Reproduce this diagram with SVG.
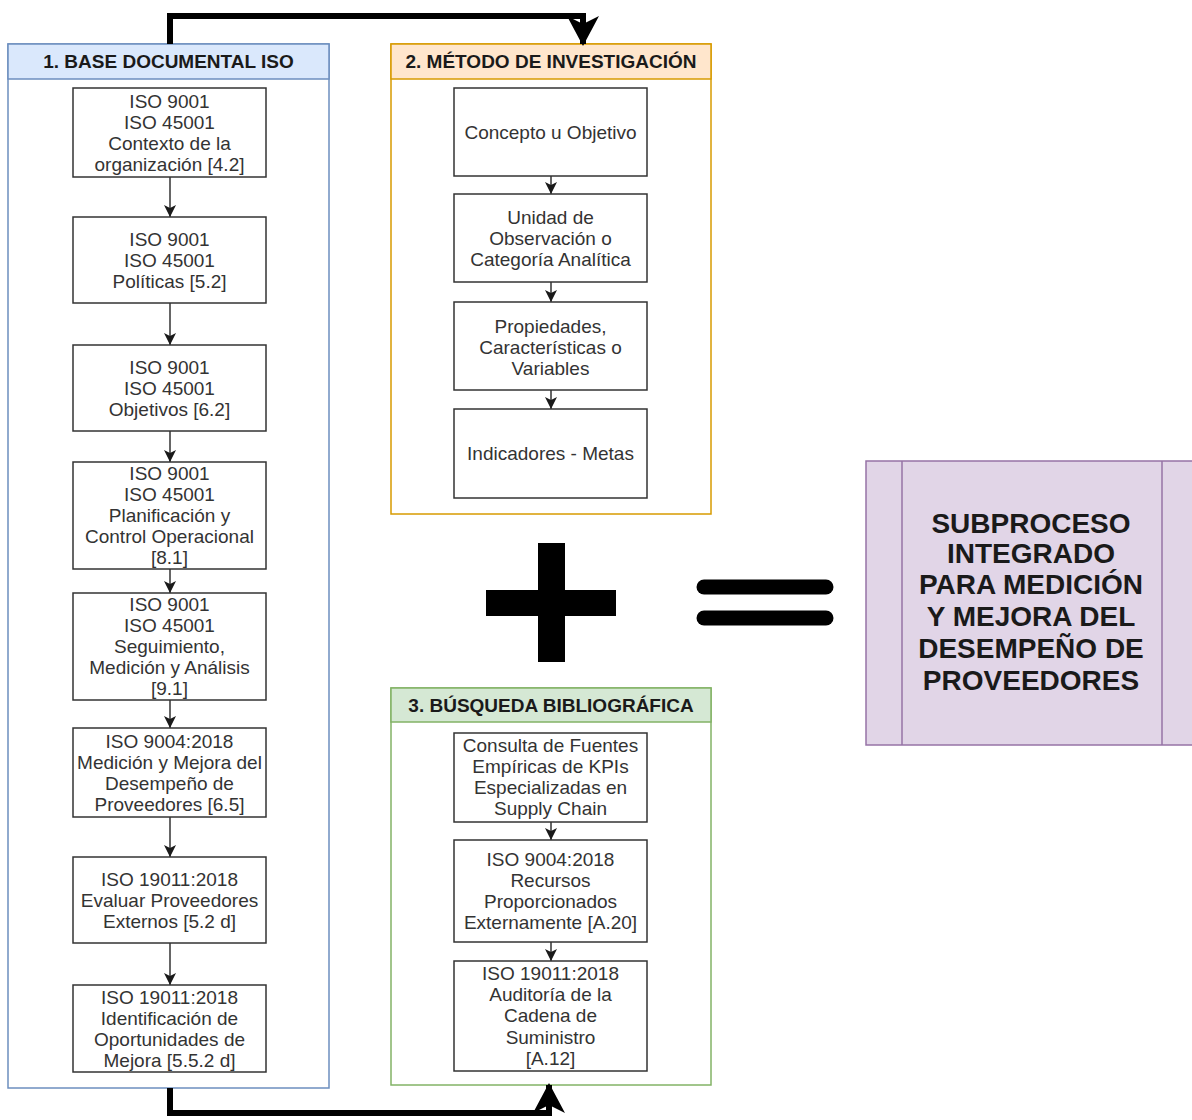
<svg xmlns="http://www.w3.org/2000/svg" width="1192" height="1120" viewBox="0 0 1192 1120">
<style>
.cont{fill:#ffffff;stroke-width:1.5}
.box{fill:#ffffff;stroke:#333333;stroke-width:1.5}
.t{font-family:"Liberation Sans",Arial,sans-serif;font-size:19px;fill:#333333;text-anchor:middle;dominant-baseline:central}
.h{font-family:"Liberation Sans",Arial,sans-serif;font-size:19px;font-weight:bold;fill:#1a1a1a;text-anchor:middle;dominant-baseline:central}
.big{font-family:"Liberation Sans",Arial,sans-serif;font-size:28px;font-weight:bold;fill:#1a1a1a;text-anchor:middle;dominant-baseline:central}
.thin{fill:none;stroke:#333333;stroke-width:1.5}
.thick{fill:none;stroke:#000000;stroke-width:6}
</style>
<defs>
<marker id="a" markerUnits="userSpaceOnUse" markerWidth="12" markerHeight="12" viewBox="0 0 12 12" refX="12" refY="6" orient="auto">
<path d="M0,0 L12,6 L0,12 L3,6 z" fill="#1a1a1a"/>
</marker>
<marker id="A" markerUnits="userSpaceOnUse" markerWidth="30" markerHeight="32" viewBox="0 0 30 32" refX="28" refY="16" orient="auto">
<path d="M0,0 L30,16 L0,32 L8,16 z" fill="#000000"/>
</marker>
</defs>
<rect width="1192" height="1120" fill="#ffffff"/>

<g id="container1">
<rect class="cont" x="8" y="44" width="321" height="1044" stroke="#6c8ebf"/>
<rect x="8" y="44" width="321" height="35" fill="#dae8fc" stroke="#6c8ebf" stroke-width="1.5"/>
<text class="h" x="168.5" y="61">1. BASE DOCUMENTAL ISO</text>
</g>
<g id="container2">
<rect class="cont" x="391" y="44" width="320" height="470" stroke="#d79b00"/>
<rect x="391" y="44" width="320" height="35" fill="#ffe6cc" stroke="#d79b00" stroke-width="1.5"/>
<text class="h" x="551" y="61">2. MÉTODO DE INVESTIGACIÓN</text>
</g>
<g id="container3">
<rect class="cont" x="391" y="688" width="320" height="397" stroke="#82b366"/>
<rect x="391" y="688" width="320" height="34" fill="#d5e8d4" stroke="#82b366" stroke-width="1.5"/>
<text class="h" x="551" y="705">3. BÚSQUEDA BIBLIOGRÁFICA</text>
</g>

<g id="connectors">
<path class="thick" d="M170,44 V16 H583 V44" marker-end="url(#A)"/>
<path class="thick" d="M170,1088 V1113 H549 V1085" marker-end="url(#A)"/>
<path class="thin" d="M170,177 V217" marker-end="url(#a)"/>
<path class="thin" d="M170,303 V345" marker-end="url(#a)"/>
<path class="thin" d="M170,431 V462" marker-end="url(#a)"/>
<path class="thin" d="M170,569 V593" marker-end="url(#a)"/>
<path class="thin" d="M170,700 V728" marker-end="url(#a)"/>
<path class="thin" d="M170,817 V857" marker-end="url(#a)"/>
<path class="thin" d="M170,943 V985" marker-end="url(#a)"/>
<path class="thin" d="M551,176 V194" marker-end="url(#a)"/>
<path class="thin" d="M551,282 V302" marker-end="url(#a)"/>
<path class="thin" d="M551,390 V409" marker-end="url(#a)"/>
<path class="thin" d="M551,822 V840" marker-end="url(#a)"/>
<path class="thin" d="M551,942 V961" marker-end="url(#a)"/>
</g>

<g id="n1"><rect class="box" x="73" y="88" width="193" height="89"/>
<text class="t" x="169.5" y="101">ISO 9001</text><text class="t" x="169.5" y="122">ISO 45001</text><text class="t" x="169.5" y="143">Contexto de la</text><text class="t" x="169.5" y="164">organización [4.2]</text></g>
<g id="n2"><rect class="box" x="73" y="217" width="193" height="86"/>
<text class="t" x="169.5" y="239">ISO 9001</text><text class="t" x="169.5" y="260">ISO 45001</text><text class="t" x="169.5" y="281">Políticas [5.2]</text></g>
<g id="n3"><rect class="box" x="73" y="345" width="193" height="86"/>
<text class="t" x="169.5" y="367">ISO 9001</text><text class="t" x="169.5" y="388">ISO 45001</text><text class="t" x="169.5" y="409">Objetivos [6.2]</text></g>
<g id="n4"><rect class="box" x="73" y="462" width="193" height="107"/>
<text class="t" x="169.5" y="473">ISO 9001</text><text class="t" x="169.5" y="494">ISO 45001</text><text class="t" x="169.5" y="515">Planificación y</text><text class="t" x="169.5" y="536">Control Operacional</text><text class="t" x="169.5" y="557">[8.1]</text></g>
<g id="n5"><rect class="box" x="73" y="593" width="193" height="107"/>
<text class="t" x="169.5" y="604">ISO 9001</text><text class="t" x="169.5" y="625">ISO 45001</text><text class="t" x="169.5" y="646">Seguimiento,</text><text class="t" x="169.5" y="667">Medición y Análisis</text><text class="t" x="169.5" y="688">[9.1]</text></g>
<g id="n6"><rect class="box" x="73" y="728" width="193" height="89"/>
<text class="t" x="169.5" y="741">ISO 9004:2018</text><text class="t" x="169.5" y="762">Medición y Mejora del</text><text class="t" x="169.5" y="783">Desempeño de</text><text class="t" x="169.5" y="804">Proveedores [6.5]</text></g>
<g id="n7"><rect class="box" x="73" y="857" width="193" height="86"/>
<text class="t" x="169.5" y="879">ISO 19011:2018</text><text class="t" x="169.5" y="900">Evaluar Proveedores</text><text class="t" x="169.5" y="921">Externos [5.2 d]</text></g>
<g id="n8"><rect class="box" x="73" y="985" width="193" height="87"/>
<text class="t" x="169.5" y="997">ISO 19011:2018</text><text class="t" x="169.5" y="1018">Identificación de</text><text class="t" x="169.5" y="1039">Oportunidades de</text><text class="t" x="169.5" y="1060">Mejora [5.5.2 d]</text></g>

<g id="m1"><rect class="box" x="454" y="88" width="193" height="88"/>
<text class="t" x="550.5" y="132">Concepto u Objetivo</text></g>
<g id="m2"><rect class="box" x="454" y="194" width="193" height="88"/>
<text class="t" x="550.5" y="217">Unidad de</text><text class="t" x="550.5" y="238">Observación o</text><text class="t" x="550.5" y="259">Categoría Analítica</text></g>
<g id="m3"><rect class="box" x="454" y="302" width="193" height="88"/>
<text class="t" x="550.5" y="326">Propiedades,</text><text class="t" x="550.5" y="347">Características o</text><text class="t" x="550.5" y="368">Variables</text></g>
<g id="m4"><rect class="box" x="454" y="409" width="193" height="89"/>
<text class="t" x="550.5" y="453">Indicadores - Metas</text></g>

<g id="b1"><rect class="box" x="454" y="733" width="193" height="89"/>
<text class="t" x="550.5" y="745">Consulta de Fuentes</text><text class="t" x="550.5" y="766">Empíricas de KPIs</text><text class="t" x="550.5" y="787">Especializadas en</text><text class="t" x="550.5" y="808">Supply Chain</text></g>
<g id="b2"><rect class="box" x="454" y="840" width="193" height="102"/>
<text class="t" x="550.5" y="859">ISO 9004:2018</text><text class="t" x="550.5" y="880">Recursos</text><text class="t" x="550.5" y="901">Proporcionados</text><text class="t" x="550.5" y="922">Externamente [A.20]</text></g>
<g id="b3"><rect class="box" x="454" y="961" width="193" height="110"/>
<text class="t" x="550.5" y="973">ISO 19011:2018</text><text class="t" x="550.5" y="994">Auditoría de la</text><text class="t" x="550.5" y="1015">Cadena de</text><text class="t" x="550.5" y="1037">Suministro</text><text class="t" x="550.5" y="1058">[A.12]</text></g>

<g id="plus">
<rect x="538" y="543" width="27" height="119" fill="#000000"/>
<rect x="486" y="590" width="130" height="26" fill="#000000"/>
</g>
<g id="equals">
<line x1="704" y1="587" x2="826" y2="587" stroke="#000000" stroke-width="15" stroke-linecap="round"/>
<line x1="704" y1="618" x2="826" y2="618" stroke="#000000" stroke-width="15" stroke-linecap="round"/>
</g>

<g id="result">
<rect x="866" y="461" width="332" height="284" fill="#e1d5e7" stroke="#9673a6" stroke-width="1.5"/>
<line x1="902" y1="461" x2="902" y2="745" stroke="#9673a6" stroke-width="1.5"/>
<line x1="1162" y1="461" x2="1162" y2="745" stroke="#9673a6" stroke-width="1.5"/>
<text class="big" x="1031" y="523">SUBPROCESO</text>
<text class="big" x="1031" y="553">INTEGRADO</text>
<text class="big" x="1031" y="584">PARA MEDICIÓN</text>
<text class="big" x="1031" y="616">Y MEJORA DEL</text>
<text class="big" x="1031" y="648">DESEMPEÑO DE</text>
<text class="big" x="1031" y="680">PROVEEDORES</text>
</g>
</svg>
